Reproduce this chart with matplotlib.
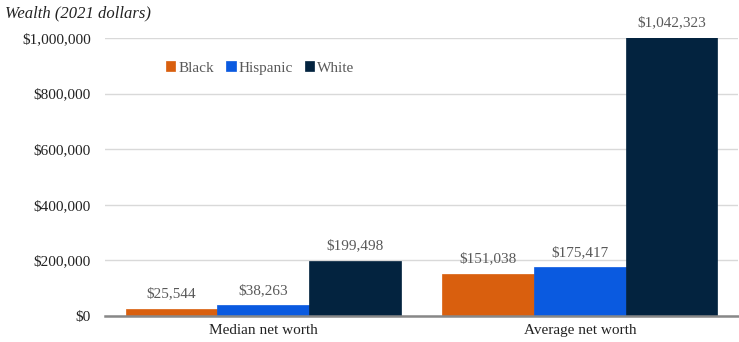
import matplotlib.pyplot as plt
import numpy as np

categories = ['Median net worth', 'Average net worth']
groups = ['Black', 'Hispanic', 'White']
black = [25544, 151038]
hispanic = [38263, 175417]
white = [199498, 1042323]
colors = ['#D95F0E', '#0A5AE0', '#03233F']

plt.rcParams['font.family'] = ['Liberation Serif', 'DejaVu Serif']

fig = plt.figure(figsize=(7.39, 3.42), dpi=100)
ax = fig.add_axes([105 / 739, 26 / 342, 633 / 739, 278 / 342])

x = np.arange(len(categories))
w = 0.29
ymax = 1000000
for i, (name, vals) in enumerate(zip(groups, [black, hispanic, white])):
    pos = x + (i - 1) * w
    ax.bar(pos, vals, w, color=colors[i], label=name, zorder=3,
           edgecolor=colors[i], linewidth=0.5)
    for p, v in zip(pos, vals):
        # the tallest bar runs past the axis top, so its label sits at the clip
        ax.annotate('${:,}'.format(v), (p, min(v, ymax)), xytext=(0, 6),
                    textcoords='offset points', ha='center', va='bottom',
                    fontsize=11, color='#595959', annotation_clip=False)

ax.set_xlim(-0.5, 1.5)
ax.set_ylim(0, ymax)
ax.set_yticks(np.arange(0, ymax + 1, 200000))
ax.set_yticklabels(['${:,}'.format(int(t)) for t in ax.get_yticks()],
                   fontsize=11, color='#222222')
ax.set_xticks(x)
ax.set_xticklabels(categories, fontsize=11, color='#222222')
ax.tick_params(length=0, pad=10)
ax.tick_params(axis='x', pad=6)
ax.grid(axis='y', color='#D9D9D9', linewidth=1, zorder=0)
for s in ['top', 'right', 'left']:
    ax.spines[s].set_visible(False)
ax.spines['bottom'].set_color('#888888')
ax.spines['bottom'].set_linewidth(1.8)
ax.spines['bottom'].set_zorder(4)

ax.legend(loc='upper left', bbox_to_anchor=(0.075, 0.965), ncol=3, frameon=False,
          fontsize=11, labelcolor='#595959', handlelength=0.6, handleheight=0.6,
          handletextpad=0.2, columnspacing=0.8)

fig.text(5 / 739, 1 - 13 / 342, 'Wealth (2021 dollars)', fontsize=12,
         style='italic', va='center', ha='left', color='#222222')

fig.savefig('out.png', dpi=100)
